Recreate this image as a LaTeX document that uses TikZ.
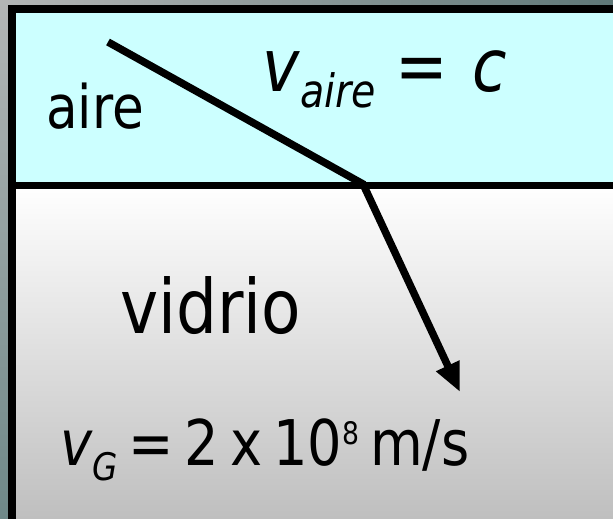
\documentclass[tikz,border=0pt]{standalone}
\usepackage{fontspec}
\newfontfamily\slidefont[FakeStretch=0.86]{DejaVu Sans}
\usepackage{tikz}
\usetikzlibrary{arrows.meta}
\definecolor{airefill}{HTML}{CCFFFF}
\definecolor{glasstop}{HTML}{FFFFFF}
\definecolor{glassbot}{HTML}{BEBEBE}
\definecolor{bgpale}{HTML}{B4B6B6}
\definecolor{bgdark}{HTML}{5F7878}
\definecolor{bgmid}{HTML}{6E8888}
\tikzset{
  medlabel/.style={anchor=base west, inner sep=0pt, text=black},
  raybeam/.style={line width=7.5pt, line join=miter, draw=black},
  framebox/.style={line width=8pt, draw=black}
}

\begin{document}
\begin{tikzpicture}[x=1pt, y=-1pt]
  \useasboundingbox (0,0) rectangle (613,519);
  % backdrop strips and media
  \shade[left color=bgpale, right color=bgdark] (0,0) rectangle (613,10);
  \shade[top color=bgpale, bottom color=bgmid] (0,0) rectangle (10,519);
  \fill[airefill] (12,9) rectangle (625,185);
  \shade[top color=glasstop, bottom color=glassbot] (12,185) rectangle (625,523);
  \draw[framebox] (12,9) rectangle (625,523);
  \draw[line width=7pt] (12,185) -- (625,185);
  % ray
  \coordinate (src) at (108,42);
  \coordinate (hit) at (363,184);
  \coordinate (tip) at (460,392);
  \draw[raybeam, -{Triangle[length=29pt, width=24pt]}] (src) -- (hit) -- (tip);
  % labels
  \node[medlabel, font=\slidefont\fontsize{60}{60}\selectfont] (aire) at (46,128) {aire};
  \node[medlabel, font=\slidefont\fontsize{75}{75}\selectfont] (vidrio) at (120,333) {vidrio};
  \node[medlabel, font=\slidefont\fontsize{73}{73}\selectfont] (vaire) at (262,92)
    {\textit{v}\raisebox{-16pt}{\fontsize{46}{46}\selectfont\textit{aire}} = \hspace{4pt}\textit{c}};
  \node[medlabel, font=\slidefont\fontsize{63}{63}\selectfont] (vglass) at (60,465)
    {\textit{v}\raisebox{-15pt}{\fontsize{38}{38}\selectfont\textit{G}}\hspace{10pt}=\hspace{11pt}2\hspace{11pt}x\hspace{11pt}10\raisebox{21pt}{\fontsize{31}{31}\selectfont 8}\hspace{11pt}m/s};
\end{tikzpicture}
\end{document}
